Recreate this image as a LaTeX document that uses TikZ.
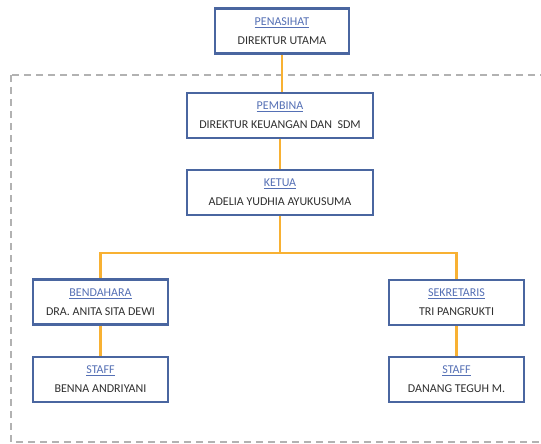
\documentclass[tikz,border=0pt]{standalone}
\usepackage{fontspec}
\setmainfont{Carlito}
\usetikzlibrary{positioning}

\definecolor{garisbiru}{HTML}{4A66A0}
\definecolor{judulbiru}{HTML}{5570B5}
\definecolor{garisoranye}{HTML}{F8B133}
\definecolor{teksabu}{HTML}{303030}

\tikzset{
    kotak/.style={draw=garisbiru, line width=2.2pt, fill=white, align=center,
        minimum height=45pt, inner sep=2pt, font=\fontsize{12}{19}\selectfont, text=teksabu},
    penghubung/.style={draw=garisoranye, line width=2.2pt},
    bingkai/.style={draw=gray!60, line width=1.2pt, dash pattern=on 7pt off 5pt}
}

\newcommand{\jabatan}[2]{{\color{judulbiru}\underline{#1}}\\#2}

\begin{document}
\begin{tikzpicture}[x=1pt,y=-1pt]

% 画布大小
\useasboundingbox (0,0) rectangle (541,444);

% 虚线框
\draw[bingkai] (11,75) rectangle (560,442);

% 组织结构
\node[kotak, minimum width=134pt] (penasihat) at (282,31) {\jabatan{PENASIHAT}{DIREKTUR UTAMA}};
\node[kotak, minimum width=186pt] (pembina) at (280,115.5) {\jabatan{PEMBINA}{DIREKTUR KEUANGAN DAN\ \ SDM}};
\node[kotak, minimum width=186pt] (ketua) at (280,192.5) {\jabatan{KETUA}{ADELIA YUDHIA AYUKUSUMA}};
\node[kotak, minimum width=135pt] (bendahara) at (100.5,302) {\jabatan{BENDAHARA}{DRA. ANITA SITA DEWI}};
\node[kotak, minimum width=135pt] (sekretaris) at (456.5,302.5) {\jabatan{SEKRETARIS}{TRI PANGRUKTI}};
\node[kotak, minimum width=135pt] (staffkiri) at (100.5,379.5) {\jabatan{STAFF}{BENNA ANDRIYANI}};
\node[kotak, minimum width=135pt] (staffkanan) at (456.5,379.5) {\jabatan{STAFF}{DANANG TEGUH M.}};

% 连线
\draw[penghubung] (penasihat.south) -- (penasihat.south |- pembina.north);
\draw[penghubung] (pembina.south) -- (ketua.north);
\draw[penghubung] (ketua.south) -- ++(0,37) coordinate (cabang);
\draw[penghubung] (cabang) -| (bendahara.north);
\draw[penghubung] (cabang) -| (sekretaris.north);
\draw[penghubung] (bendahara.south) -- (staffkiri.north);
\draw[penghubung] (sekretaris.south) -- (staffkanan.north);

\end{tikzpicture}
\end{document}
